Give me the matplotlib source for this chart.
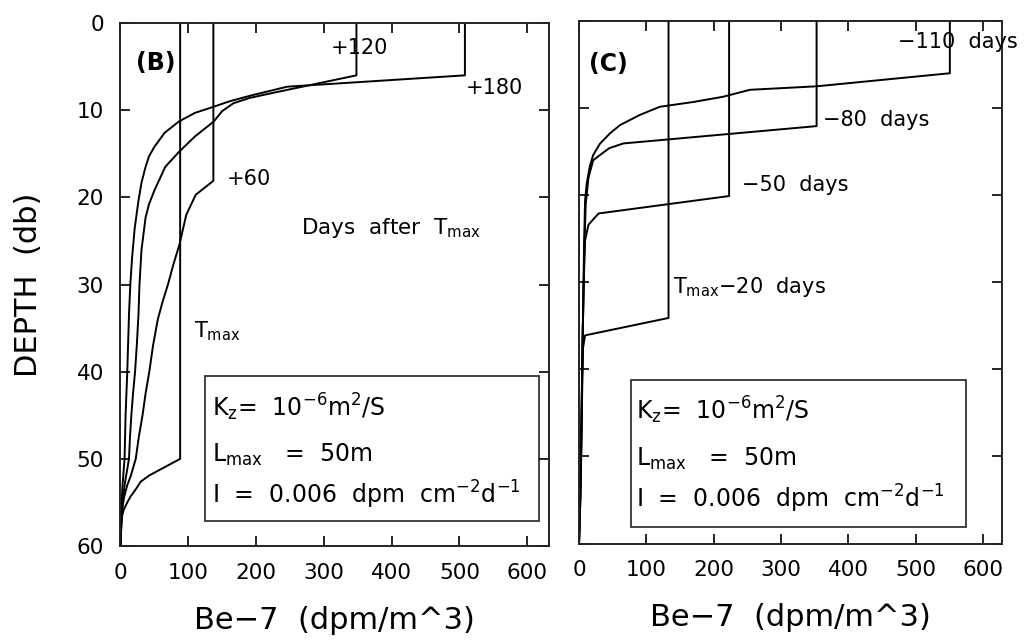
import numpy as np
import matplotlib.pyplot as plt
from matplotlib.patches import Rectangle

# (B) Be-7 profiles at T_max and after it; concentration (dpm/m^3) vs depth (db)
tmax_be = [88, 88, 42.5, 30, 22.5, 15, 10, 5, 2.5, 1, 0]
tmax_z = [0, 50, 51.9, 52.6, 53.5, 54.3, 55, 55.8, 56.5, 58, 60]

p60_be = [137, 137, 111, 97, 87, 78, 70, 62, 55, 48, 42.5, 37, 32.5, 27, 22.5, 15, 10, 5, 3, 1, 0]
p60_z = [0, 18.1, 19.7, 22, 25.4, 27.7, 30, 32, 34, 37, 40, 42.5, 45, 47.5, 50, 52, 53, 54.5, 55.5, 57, 60]

p120_be = [348, 348, 219.5, 190, 166.6, 150, 137.5, 110, 86, 66, 50, 42, 37, 31, 28,
           26.5, 24, 21.5, 18.5, 16, 14, 12.5, 6, 2, 0]
p120_z = [0, 6, 8.1, 8.6, 9.2, 10.1, 11.3, 13, 14.8, 16.5, 19.2, 20.8, 22.3, 26, 30,
          33.5, 37, 40, 42.5, 45, 47.5, 50, 53, 56, 60]

p180_be = [508, 508, 246, 193, 160, 137.5, 110, 86, 65, 50, 42, 37, 31, 26.5, 21, 17,
           14.5, 12.5, 10, 7.5, 6, 3, 1, 0]
p180_z = [0, 6, 7.3, 8.3, 9.0, 9.6, 10.3, 11.3, 12.6, 14.2, 15.3, 16.5, 18.3, 20.4, 23.5, 27,
          30, 33.5, 40, 45, 50, 53, 56, 60]

# (C) profiles before T_max
m110_be = [551, 551, 353, 254, 214, 170, 120, 90, 61, 46, 31, 21, 16, 11.4, 9,
           7.5, 6.5, 5, 4, 3, 1.5, 0]
m110_z = [0, 6, 7.5, 7.9, 8.7, 9.3, 9.85, 10.8, 11.95, 12.9, 14.1, 15.4, 16.7, 18.7, 20.6,
          25.7, 31, 38, 44, 50, 56, 60]

m80_be = [353, 353, 66, 45, 31, 21, 14, 10, 8, 6.5, 5, 4, 3, 1.5, 0]
m80_z = [0, 12.07, 14.06, 14.6, 15.4, 16, 18, 21, 26, 32, 38, 44, 50, 56, 60]

m50_be = [223, 223, 29, 14, 9, 7, 5.5, 4.5, 3, 1.5, 0]
m50_z = [0, 20.1, 22.1, 23.4, 25.2, 30, 36, 42, 50, 56, 60]

m20_be = [133, 133, 9, 6, 5, 4, 3, 1.5, 0]
m20_z = [0, 34.1, 36.1, 37.5, 41, 46, 51, 56, 60]

xticks = [0, 100, 200, 300, 400, 500, 600]
yticks = [0, 10, 20, 30, 40, 50, 60]

box_lines = [r'K$_{\rm z}$=  10$^{-6}$m$^{2}$/S',
             r'L$_{\rm max}$   =  50m',
             r'I  =  0.006  dpm  cm$^{-2}$d$^{-1}$']

plt.rcParams['mathtext.fontset'] = 'dejavusans'
plt.rcParams['font.family'] = 'DejaVu Sans'

fig = plt.figure(figsize=(10.29, 6.42), dpi=100)
axB = fig.add_axes([0.1171, 0.1495, 0.4164, 0.8146])
axC = fig.add_axes([0.5627, 0.1534, 0.4114, 0.8139])


def style(ax, xmax, ylabels):
    ax.set_xlim(0, xmax)
    ax.set_ylim(60, 0)
    ax.set_xticks(xticks)
    ax.set_yticks(yticks)
    ax.tick_params(direction='in', length=7, width=1.2, top=True, right=True,
                   labelsize=15.5, pad=12, colors='black')
    if not ylabels:
        ax.set_yticklabels([])
    for s in ax.spines.values():
        s.set_linewidth(1.4)
        s.set_color('#222222')
    ax.text(0.5, -0.142, 'Be\u22127  (dpm/m^3)', transform=ax.transAxes,
            ha='center', va='center', fontsize=22)


def param_box(ax, x0, y0, x1, y1, tx, ty):
    ax.add_patch(Rectangle((x0, y0), x1 - x0, y1 - y0, transform=ax.transAxes,
                           fill=False, lw=1.3, ec='#333333'))
    for t, y in zip(box_lines, ty):
        ax.text(tx, y, t, transform=ax.transAxes, ha='left', va='center', fontsize=17)


lw = 1.4
for be, z in [(tmax_be, tmax_z), (p60_be, p60_z), (p120_be, p120_z), (p180_be, p180_z)]:
    axB.plot(be, z, color='black', lw=lw)
for be, z in [(m110_be, m110_z), (m80_be, m80_z), (m50_be, m50_z), (m20_be, m20_z)]:
    axC.plot(be, z, color='black', lw=lw, clip_on=False)

style(axB, 632, True)
style(axC, 629, False)

fig.text(0.028, 0.556, 'DEPTH  (db)', rotation=90, ha='center', va='center', fontsize=22)

# panel B labels
axB.text(52, 4.6, '(B)', ha='center', va='center', fontsize=17, fontweight='bold')
axB.text(353, 2.9, '+120', ha='center', va='center', fontsize=15)
axB.text(509, 7.5, '+180', ha='left', va='center', fontsize=15)
axB.text(156, 17.9, '+60', ha='left', va='center', fontsize=15)
axB.text(266, 23.5, r'Days  after  T$_{\rm max}$', ha='left', va='center', fontsize=15.5)
axB.text(108, 35.3, r'T$_{\rm max}$', ha='left', va='center', fontsize=15)
param_box(axB, 0.197, 0.048, 0.977, 0.325, 0.213, [0.266, 0.174, 0.097])

# panel C labels
axC.text(43.5, 4.9, '(C)', ha='center', va='center', fontsize=17, fontweight='bold')
axC.text(474, 2.4, '\u2212110  days', ha='left', va='center', fontsize=15, clip_on=False)
axC.text(363, 11.4, '\u221280  days', ha='left', va='center', fontsize=15)
axC.text(241.5, 18.8, '\u221250  days', ha='left', va='center', fontsize=15)
axC.text(140, 30.6, 'T$_{\\rm max}$\u221220  days', ha='left', va='center', fontsize=15)
param_box(axC, 0.122, 0.032, 0.913, 0.313, 0.135, [0.255, 0.161, 0.085])

fig.savefig('out.png', dpi=100)
